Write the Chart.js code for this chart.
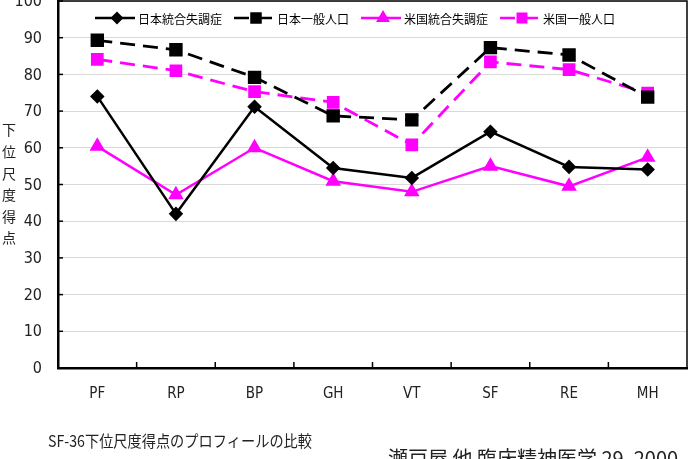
<!DOCTYPE html>
<html>
<head>
<meta charset="utf-8">
<script src="https://cdn.jsdelivr.net/npm/chart.js@4/dist/chart.umd.min.js"></script>
<style>
html, body { margin: 0; padding: 0; background: #fff; }
#wrap { width: 694px; height: 459px; position: relative; overflow: hidden; }
</style>
</head>
<body>
<div id="wrap"><canvas id="sfChart"></canvas></div>
<script>
// SF-36 下位尺度
const subscales = ['PF', 'RP', 'BP', 'GH', 'VT', 'SF', 'RE', 'MH'];
const seriesNames = ['日本統合失調症', '日本一般人口', '米国統合失調症', '米国一般人口'];

// 得点
const jpPatients = [74, 42, 71.2, 54.5, 51.8, 64.4, 54.8, 54.1];
const jpGeneral = [89.3, 86.7, 79.2, 68.7, 67.6, 87.3, 85.3, 73.8];
const usPatients = [60.4, 47.2, 60, 50.9, 48, 55, 49.5, 57.4];
const usGeneral = [84.1, 81, 75.3, 72.4, 60.8, 83.4, 81.3, 74.9];

const yTitle = '下位尺度得点';
const caption = 'SF-36下位尺度得点のプロフィールの比較';
const source = '瀬戸屋 他 臨床精神医学 29, 2000';

const MAGENTA = '#ff00ff';
const FONT = '"Liberation Sans Narrow", "DejaVu Sans Condensed", "Noto Sans CJK JP", sans-serif';
const JFONT = '"Noto Sans CJK JP", sans-serif';

// 枠線・目盛り・軸ラベル・凡例・注記
const extras = {
    id: 'extras',
    afterDraw(chart) {
        const ctx = chart.ctx;
        const a = chart.chartArea;
        const x = chart.scales.x;
        const y = chart.scales.y;
        ctx.save();

        // 上と右の枠
        ctx.strokeStyle = '#000';
        ctx.lineWidth = 1.5;
        ctx.beginPath();
        ctx.moveTo(a.left, a.top);
        ctx.lineTo(a.right, a.top);
        ctx.lineTo(a.right, a.bottom);
        ctx.stroke();

        // x軸の内向き目盛り (カテゴリの境目)
        for (let i = 1; i < subscales.length; i++) {
            const px = (x.getPixelForValue(i - 1) + x.getPixelForValue(i)) / 2;
            ctx.beginPath();
            ctx.moveTo(px, a.bottom);
            ctx.lineTo(px, a.bottom - 6);
            ctx.stroke();
        }

        // y軸の内向き目盛りとラベル
        ctx.fillStyle = '#222';
        ctx.font = '16px ' + FONT;
        ctx.textAlign = 'right';
        ctx.textBaseline = 'middle';
        y.ticks.forEach(t => {
            const py = y.getPixelForValue(t.value);
            ctx.beginPath();
            ctx.moveTo(a.left, py);
            ctx.lineTo(a.left + 5, py);
            ctx.stroke();
            ctx.fillText(String(t.value), a.left - 16, py + 1);
        });

        // x軸ラベル
        ctx.font = '15px ' + FONT;
        ctx.textAlign = 'center';
        subscales.forEach((lab, i) => ctx.fillText(lab, x.getPixelForValue(i), a.bottom + 26));

        // 凡例 (プロット内)
        ctx.font = '12px ' + JFONT;
        ctx.textAlign = 'left';
        let lx = 95;
        const ly = a.top + 17;
        chart.data.datasets.forEach(ds => {
            ctx.strokeStyle = ds.borderColor;
            ctx.fillStyle = ds.borderColor;
            ctx.lineWidth = 2.5;
            ctx.setLineDash(ds.borderDash || []);
            ctx.beginPath();
            ctx.moveTo(lx, ly);
            ctx.lineTo(lx + 40, ly);
            ctx.stroke();
            ctx.setLineDash([]);
            Chart.helpers.drawPoint(ctx, {
                pointStyle: ds.pointStyle,
                radius: ds.pointRadius * 0.85,
                rotation: 0,
                borderWidth: 1
            }, lx + 22, ly);
            ctx.fillStyle = '#000';
            ctx.fillText(ds.label, lx + 43, ly + 1);
            lx += 43 + ctx.measureText(ds.label).width + 12;
        });

        // 縦書きの軸タイトル
        ctx.font = '14px ' + JFONT;
        ctx.textAlign = 'center';
        ctx.fillStyle = '#222';
        [...yTitle].forEach((ch, i) => ctx.fillText(ch, 9, 130 + i * 21.6));

        // 下の注記
        ctx.textAlign = 'left';
        ctx.font = '16px ' + JFONT;
        ctx.fillText(caption, 48, 441, 264);
        ctx.textBaseline = 'top';
        ctx.font = '20px ' + JFONT;
        ctx.fillText(source, 388, 448, 298);
        ctx.restore();
    }
};

const ctx = document.getElementById('sfChart').getContext('2d');
new Chart(ctx, {
    type: 'line',
    data: {
        labels: subscales,
        datasets: [{
            label: seriesNames[0],
            data: jpPatients,
            borderColor: '#000',
            backgroundColor: '#000',
            borderWidth: 2.5,
            pointStyle: 'rectRot',
            pointRadius: 5.5,
            tension: 0
        }, {
            label: seriesNames[1],
            data: jpGeneral,
            borderColor: '#000',
            backgroundColor: '#000',
            borderWidth: 2.8,
            borderDash: [15, 8],
            pointStyle: 'rect',
            pointRadius: 7.5,
            tension: 0
        }, {
            label: seriesNames[2],
            data: usPatients,
            borderColor: MAGENTA,
            backgroundColor: MAGENTA,
            borderWidth: 2.5,
            pointStyle: 'triangle',
            pointRadius: 6.5,
            tension: 0
        }, {
            label: seriesNames[3],
            data: usGeneral,
            borderColor: MAGENTA,
            backgroundColor: MAGENTA,
            borderWidth: 2.8,
            borderDash: [15, 8],
            pointStyle: 'rect',
            pointRadius: 7,
            tension: 0
        }]
    },
    options: {
        responsive: true,
        maintainAspectRatio: false,
        animation: false,
        layout: { autoPadding: false, padding: { top: 1, right: 7, left: 0, bottom: 0 } },
        plugins: {
            legend: { display: false },
            tooltip: { enabled: false }
        },
        scales: {
            x: {
                offset: true,
                grid: { display: false },
                border: { color: '#000', width: 2.5 },
                ticks: { display: false },
                afterFit(s) { s.height = 91; }
            },
            y: {
                min: 0,
                max: 100,
                ticks: { stepSize: 10, display: false },
                grid: { color: '#d9d9d9', lineWidth: 1, drawTicks: false },
                border: { color: '#000', width: 2.5 },
                afterFit(s) { s.width = 58; }
            }
        }
    },
    plugins: [extras]
});
</script>
</body>
</html>
